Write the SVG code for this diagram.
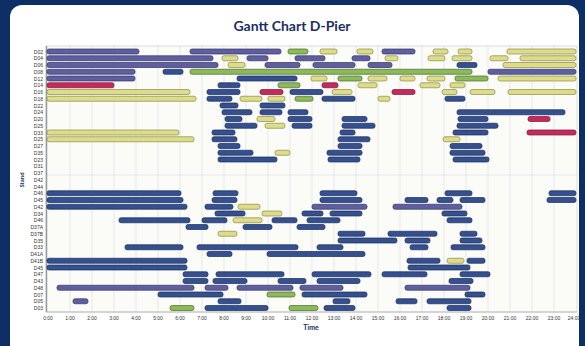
<svg xmlns="http://www.w3.org/2000/svg" width="585" height="346" viewBox="0 0 585 346">
<style>
.lbl{font-family:"Liberation Sans",Arial,sans-serif;font-size:5px;fill:#333;text-anchor:end}
.ax{font-family:"Liberation Sans",Arial,sans-serif;font-size:5px;fill:#333;text-anchor:middle}
.t{font-family:Lato,"Open Sans",sans-serif;font-weight:bold;fill:#1b2f66}
rect.p{fill:#5f5f9f;stroke:#35356a;stroke-width:0.7}
rect.b{fill:#34508f;stroke:#1c2c5c;stroke-width:0.7}
rect.y{fill:#dcdc8c;stroke:#8c8c40;stroke-width:0.7}
rect.g{fill:#8cba5a;stroke:#4c6c2c;stroke-width:0.7}
rect.r{fill:#c62a5c;stroke:#7a1838;stroke-width:0.7}
.grid line{stroke:#dcdce4;stroke-width:0.6}
</style>
<rect x="0" y="0" width="585" height="346" fill="#0e2f66"/>
<rect x="10" y="5" width="569" height="360" rx="12" fill="#ffffff"/>
<text class="t" x="292" y="31" font-size="14" text-anchor="middle">Gantt Chart D-Pier</text>
<rect x="46" y="46" width="531" height="266" fill="#fbfbf8" stroke="#c8c8c8" stroke-width="0.6"/>
<g class="grid" id="grid">
<line x1="70" y1="46" x2="70" y2="312"/><line x1="92" y1="46" x2="92" y2="312"/><line x1="114" y1="46" x2="114" y2="312"/><line x1="136" y1="46" x2="136" y2="312"/><line x1="158" y1="46" x2="158" y2="312"/><line x1="180" y1="46" x2="180" y2="312"/><line x1="202" y1="46" x2="202" y2="312"/><line x1="224" y1="46" x2="224" y2="312"/><line x1="246" y1="46" x2="246" y2="312"/><line x1="268" y1="46" x2="268" y2="312"/><line x1="290" y1="46" x2="290" y2="312"/><line x1="312" y1="46" x2="312" y2="312"/><line x1="334" y1="46" x2="334" y2="312"/><line x1="356" y1="46" x2="356" y2="312"/><line x1="378" y1="46" x2="378" y2="312"/><line x1="400" y1="46" x2="400" y2="312"/><line x1="422" y1="46" x2="422" y2="312"/><line x1="444" y1="46" x2="444" y2="312"/><line x1="466" y1="46" x2="466" y2="312"/><line x1="488" y1="46" x2="488" y2="312"/><line x1="510" y1="46" x2="510" y2="312"/><line x1="532" y1="46" x2="532" y2="312"/><line x1="554" y1="46" x2="554" y2="312"/>
<line x1="46" y1="175" x2="577" y2="175" stroke="#eee"/>
</g>
<line x1="46.5" y1="46" x2="46.5" y2="312" stroke="#9a9a9a" stroke-width="1.5"/>
<line x1="46" y1="312" x2="577" y2="312" stroke="#b0b0b0" stroke-width="0.8"/>
<g id="rows">
<g id="r0" transform="translate(0,49)"><text class="lbl" x="43" y="4.5">D02</text><rect class="p" x="47" y="0" width="92" height="5" rx="2"/><rect class="p" x="190" y="0" width="91" height="5" rx="2"/><rect class="g" x="288" y="0" width="20" height="5" rx="2"/><rect class="y" x="320" y="0" width="17" height="5" rx="2"/><rect class="y" x="357" y="0" width="16" height="5" rx="2"/><rect class="p" x="382" y="0" width="33" height="5" rx="2"/><rect class="y" x="433" y="0" width="15" height="5" rx="2"/><rect class="y" x="458" y="0" width="14" height="5" rx="2"/><rect class="y" x="507" y="0" width="69" height="5" rx="2"/></g>
<g id="r1" transform="translate(0,55.75)"><text class="lbl" x="43" y="4.5">D04</text><rect class="p" x="47" y="0" width="166" height="5" rx="2"/><rect class="y" x="222" y="0" width="16" height="5" rx="2"/><rect class="p" x="247" y="0" width="21" height="5" rx="2"/><rect class="p" x="295" y="0" width="30" height="5" rx="2"/><rect class="p" x="352" y="0" width="18" height="5" rx="2"/><rect class="y" x="385" y="0" width="13" height="5" rx="2"/><rect class="y" x="428" y="0" width="17" height="5" rx="2"/><rect class="y" x="452" y="0" width="20" height="5" rx="2"/><rect class="y" x="490" y="0" width="18" height="5" rx="2"/><rect class="y" x="520" y="0" width="56" height="5" rx="2"/></g>
<g id="r2" transform="translate(0,62.5)"><text class="lbl" x="43" y="4.5">D06</text><rect class="p" x="47" y="0" width="171" height="5" rx="2"/><rect class="y" x="228" y="0" width="17" height="5" rx="2"/><rect class="p" x="265" y="0" width="35" height="5" rx="2"/><rect class="p" x="313" y="0" width="42" height="5" rx="2"/><rect class="p" x="368" y="0" width="24" height="5" rx="2"/><rect class="b" x="457" y="0" width="20" height="5" rx="2"/><rect class="y" x="503" y="0" width="73" height="5" rx="2"/></g>
<g id="r3" transform="translate(0,69.25)"><text class="lbl" x="43" y="4.5">D08</text><rect class="p" x="47" y="0" width="88" height="5" rx="2"/><rect class="b" x="163" y="0" width="20" height="5" rx="2"/><rect class="g" x="190" y="0" width="282" height="5" rx="2"/><rect class="p" x="488" y="0" width="88" height="5" rx="2"/></g>
<g id="r4" transform="translate(0,76)"><text class="lbl" x="43" y="4.5">D12</text><rect class="p" x="47" y="0" width="88" height="5" rx="2"/><rect class="b" x="237" y="0" width="60" height="5" rx="2"/><rect class="y" x="311" y="0" width="16" height="5" rx="2"/><rect class="g" x="338" y="0" width="24" height="5" rx="2"/><rect class="y" x="368" y="0" width="19" height="5" rx="2"/><rect class="y" x="400" y="0" width="15" height="5" rx="2"/><rect class="y" x="427" y="0" width="18" height="5" rx="2"/><rect class="g" x="455" y="0" width="33" height="5" rx="2"/><rect class="y" x="498" y="0" width="78" height="5" rx="2"/></g>
<g id="r5" transform="translate(0,82.75)"><text class="lbl" x="43" y="4.5">D14</text><rect class="r" x="47" y="0" width="67" height="5" rx="2"/><rect class="b" x="218" y="0" width="22" height="5" rx="2"/><rect class="g" x="278" y="0" width="22" height="5" rx="2"/><rect class="r" x="322" y="0" width="16" height="5" rx="2"/><rect class="y" x="358" y="0" width="19" height="5" rx="2"/><rect class="y" x="420" y="0" width="20" height="5" rx="2"/><rect class="y" x="450" y="0" width="15" height="5" rx="2"/></g>
<g id="r6" transform="translate(0,89.5)"><text class="lbl" x="43" y="4.5">D16</text><rect class="y" x="47" y="0" width="143" height="5" rx="2"/><rect class="b" x="207" y="0" width="33" height="5" rx="2"/><rect class="r" x="260" y="0" width="23" height="5" rx="2"/><rect class="b" x="290" y="0" width="33" height="5" rx="2"/><rect class="y" x="332" y="0" width="20" height="5" rx="2"/><rect class="r" x="392" y="0" width="23" height="5" rx="2"/><rect class="y" x="442" y="0" width="15" height="5" rx="2"/><rect class="y" x="470" y="0" width="25" height="5" rx="2"/><rect class="y" x="508" y="0" width="68" height="5" rx="2"/></g>
<g id="r7" transform="translate(0,96.25)"><text class="lbl" x="43" y="4.5">D18</text><rect class="y" x="47" y="0" width="149" height="5" rx="2"/><rect class="b" x="207" y="0" width="25" height="5" rx="2"/><rect class="y" x="240" y="0" width="22" height="5" rx="2"/><rect class="y" x="268" y="0" width="17" height="5" rx="2"/><rect class="g" x="295" y="0" width="18" height="5" rx="2"/><rect class="b" x="322" y="0" width="33" height="5" rx="2"/><rect class="y" x="378" y="0" width="12" height="5" rx="2"/><rect class="b" x="445" y="0" width="20" height="5" rx="2"/></g>
<g id="r8" transform="translate(0,103)"><text class="lbl" x="43" y="4.5">D22</text><rect class="b" x="220" y="0" width="18" height="5" rx="2"/><rect class="b" x="260" y="0" width="25" height="5" rx="2"/></g>
<g id="r9" transform="translate(0,109.75)"><text class="lbl" x="43" y="4.5">D24</text><rect class="b" x="222" y="0" width="30" height="5" rx="2"/><rect class="b" x="260" y="0" width="22" height="5" rx="2"/><rect class="b" x="288" y="0" width="20" height="5" rx="2"/><rect class="b" x="457" y="0" width="108" height="5" rx="2"/></g>
<g id="r10" transform="translate(0,116.5)"><text class="lbl" x="43" y="4.5">D20</text><rect class="b" x="225" y="0" width="17" height="5" rx="2"/><rect class="y" x="257" y="0" width="18" height="5" rx="2"/><rect class="b" x="288" y="0" width="24" height="5" rx="2"/><rect class="b" x="342" y="0" width="25" height="5" rx="2"/><rect class="b" x="458" y="0" width="30" height="5" rx="2"/><rect class="r" x="528" y="0" width="22" height="5" rx="2"/></g>
<g id="r11" transform="translate(0,123.25)"><text class="lbl" x="43" y="4.5">D25</text><rect class="b" x="225" y="0" width="32" height="5" rx="2"/><rect class="y" x="265" y="0" width="20" height="5" rx="2"/><rect class="b" x="292" y="0" width="20" height="5" rx="2"/><rect class="b" x="342" y="0" width="33" height="5" rx="2"/><rect class="b" x="457" y="0" width="41" height="5" rx="2"/></g>
<g id="r12" transform="translate(0,130)"><text class="lbl" x="43" y="4.5">D33</text><rect class="y" x="47" y="0" width="132" height="5" rx="2"/><rect class="b" x="212" y="0" width="23" height="5" rx="2"/><rect class="b" x="340" y="0" width="15" height="5" rx="2"/><rect class="b" x="453" y="0" width="35" height="5" rx="2"/><rect class="r" x="527" y="0" width="49" height="5" rx="2"/></g>
<g id="r13" transform="translate(0,136.75)"><text class="lbl" x="43" y="4.5">D25</text><rect class="y" x="47" y="0" width="147" height="5" rx="2"/><rect class="b" x="212" y="0" width="25" height="5" rx="2"/><rect class="b" x="338" y="0" width="32" height="5" rx="2"/><rect class="y" x="443" y="0" width="17" height="5" rx="2"/></g>
<g id="r14" transform="translate(0,143.5)"><text class="lbl" x="43" y="4.5">D27</text><rect class="b" x="218" y="0" width="22" height="5" rx="2"/><rect class="b" x="338" y="0" width="24" height="5" rx="2"/><rect class="b" x="450" y="0" width="32" height="5" rx="2"/></g>
<g id="r15" transform="translate(0,150.25)"><text class="lbl" x="43" y="4.5">D35</text><rect class="b" x="218" y="0" width="35" height="5" rx="2"/><rect class="y" x="275" y="0" width="15" height="5" rx="2"/><rect class="b" x="327" y="0" width="35" height="5" rx="2"/><rect class="b" x="450" y="0" width="35" height="5" rx="2"/></g>
<g id="r16" transform="translate(0,157)"><text class="lbl" x="43" y="4.5">D23</text><rect class="b" x="218" y="0" width="59" height="5" rx="2"/><rect class="b" x="328" y="0" width="32" height="5" rx="2"/><rect class="b" x="453" y="0" width="36" height="5" rx="2"/></g>
<g id="r17" transform="translate(0,163.75)"><text class="lbl" x="43" y="4.5">D31</text></g>
<g id="r18" transform="translate(0,170.5)"><text class="lbl" x="43" y="4.5">D37</text></g>
<g id="r19" transform="translate(0,177.25)"><text class="lbl" x="43" y="4.5">D42</text></g>
<g id="r20" transform="translate(0,184)"><text class="lbl" x="43" y="4.5">D44</text></g>
<g id="r21" transform="translate(0,190.75)"><text class="lbl" x="43" y="4.5">D46</text><rect class="b" x="47" y="0" width="134" height="5" rx="2"/><rect class="b" x="213" y="0" width="25" height="5" rx="2"/><rect class="b" x="320" y="0" width="37" height="5" rx="2"/><rect class="b" x="445" y="0" width="27" height="5" rx="2"/><rect class="b" x="549" y="0" width="27" height="5" rx="2"/></g>
<g id="r22" transform="translate(0,197.5)"><text class="lbl" x="43" y="4.5">D45</text><rect class="b" x="47" y="0" width="136" height="5" rx="2"/><rect class="b" x="212" y="0" width="25" height="5" rx="2"/><rect class="b" x="320" y="0" width="42" height="5" rx="2"/><rect class="b" x="405" y="0" width="23" height="5" rx="2"/><rect class="b" x="437" y="0" width="16" height="5" rx="2"/><rect class="b" x="460" y="0" width="25" height="5" rx="2"/><rect class="b" x="547" y="0" width="29" height="5" rx="2"/></g>
<g id="r23" transform="translate(0,204.25)"><text class="lbl" x="43" y="4.5">D42</text><rect class="b" x="47" y="0" width="140" height="5" rx="2"/><rect class="b" x="205" y="0" width="28" height="5" rx="2"/><rect class="y" x="238" y="0" width="22" height="5" rx="2"/><rect class="p" x="312" y="0" width="55" height="5" rx="2"/><rect class="p" x="393" y="0" width="69" height="5" rx="2"/></g>
<g id="r24" transform="translate(0,211)"><text class="lbl" x="43" y="4.5">D34</text><rect class="b" x="215" y="0" width="30" height="5" rx="2"/><rect class="y" x="262" y="0" width="20" height="5" rx="2"/><rect class="b" x="302" y="0" width="21" height="5" rx="2"/><rect class="b" x="330" y="0" width="32" height="5" rx="2"/><rect class="b" x="442" y="0" width="25" height="5" rx="2"/></g>
<g id="r25" transform="translate(0,217.75)"><text class="lbl" x="43" y="4.5">D46</text><rect class="b" x="119" y="0" width="71" height="5" rx="2"/><rect class="b" x="202" y="0" width="25" height="5" rx="2"/><rect class="y" x="233" y="0" width="29" height="5" rx="2"/><rect class="b" x="272" y="0" width="25" height="5" rx="2"/><rect class="b" x="307" y="0" width="33" height="5" rx="2"/><rect class="b" x="447" y="0" width="25" height="5" rx="2"/></g>
<g id="r26" transform="translate(0,224.5)"><text class="lbl" x="43" y="4.5">D37A</text><rect class="b" x="186" y="0" width="22" height="5" rx="2"/><rect class="b" x="243" y="0" width="29" height="5" rx="2"/><rect class="b" x="297" y="0" width="28" height="5" rx="2"/></g>
<g id="r27" transform="translate(0,231.25)"><text class="lbl" x="43" y="4.5">D37B</text><rect class="y" x="218" y="0" width="19" height="5" rx="2"/><rect class="b" x="338" y="0" width="27" height="5" rx="2"/><rect class="b" x="388" y="0" width="49" height="5" rx="2"/><rect class="b" x="460" y="0" width="17" height="5" rx="2"/></g>
<g id="r28" transform="translate(0,238)"><text class="lbl" x="43" y="4.5">D35</text><rect class="b" x="338" y="0" width="59" height="5" rx="2"/><rect class="b" x="405" y="0" width="25" height="5" rx="2"/><rect class="b" x="460" y="0" width="22" height="5" rx="2"/></g>
<g id="r29" transform="translate(0,244.75)"><text class="lbl" x="43" y="4.5">D33</text><rect class="b" x="125" y="0" width="58" height="5" rx="2"/><rect class="b" x="197" y="0" width="101" height="5" rx="2"/><rect class="b" x="317" y="0" width="26" height="5" rx="2"/><rect class="b" x="410" y="0" width="18" height="5" rx="2"/><rect class="b" x="451" y="0" width="34" height="5" rx="2"/></g>
<g id="r30" transform="translate(0,251.5)"><text class="lbl" x="43" y="4.5">D41A</text><rect class="b" x="207" y="0" width="25" height="5" rx="2"/><rect class="b" x="267" y="0" width="98" height="5" rx="2"/></g>
<g id="r31" transform="translate(0,258.25)"><text class="lbl" x="43" y="4.5">D41B</text><rect class="b" x="47" y="0" width="140" height="5" rx="2" fill="#2a48a4"/><rect class="b" x="407" y="0" width="33" height="5" rx="2"/><rect class="y" x="447" y="0" width="17" height="5" rx="2"/><rect class="b" x="467" y="0" width="18" height="5" rx="2"/></g>
<g id="r32" transform="translate(0,265)"><text class="lbl" x="43" y="4.5">D45</text><rect class="b" x="47" y="0" width="140" height="5" rx="2"/><rect class="b" x="408" y="0" width="62" height="5" rx="2"/></g>
<g id="r33" transform="translate(0,271.75)"><text class="lbl" x="43" y="4.5">D47</text><rect class="b" x="183" y="0" width="25" height="5" rx="2"/><rect class="b" x="216" y="0" width="68" height="5" rx="2"/><rect class="b" x="312" y="0" width="59" height="5" rx="2"/><rect class="b" x="382" y="0" width="45" height="5" rx="2"/><rect class="b" x="460" y="0" width="30" height="5" rx="2"/></g>
<g id="r34" transform="translate(0,278.5)"><text class="lbl" x="43" y="4.5">D43</text><rect class="b" x="183" y="0" width="25" height="5" rx="2"/><rect class="b" x="213" y="0" width="34" height="5" rx="2"/><rect class="b" x="278" y="0" width="28" height="5" rx="2"/><rect class="b" x="317" y="0" width="43" height="5" rx="2"/><rect class="b" x="449" y="0" width="24" height="5" rx="2"/></g>
<g id="r35" transform="translate(0,285.25)"><text class="lbl" x="43" y="4.5">D48</text><rect class="p" x="57" y="0" width="137" height="5" rx="2"/><rect class="p" x="205" y="0" width="23" height="5" rx="2"/><rect class="p" x="237" y="0" width="56" height="5" rx="2"/><rect class="p" x="300" y="0" width="43" height="5" rx="2"/><rect class="p" x="405" y="0" width="65" height="5" rx="2"/></g>
<g id="r36" transform="translate(0,292)"><text class="lbl" x="43" y="4.5">D07</text><rect class="b" x="158" y="0" width="65" height="5" rx="2"/><rect class="g" x="267" y="0" width="28" height="5" rx="2"/><rect class="b" x="302" y="0" width="65" height="5" rx="2"/><rect class="b" x="465" y="0" width="20" height="5" rx="2"/></g>
<g id="r37" transform="translate(0,298.75)"><text class="lbl" x="43" y="4.5">D05</text><rect class="p" x="73" y="0" width="15" height="5" rx="2"/><rect class="b" x="218" y="0" width="23" height="5" rx="2"/><rect class="b" x="333" y="0" width="17" height="5" rx="2"/><rect class="b" x="396" y="0" width="21" height="5" rx="2"/><rect class="b" x="427" y="0" width="44" height="5" rx="2"/></g>
<g id="r38" transform="translate(0,305.5)"><text class="lbl" x="43" y="4.5">D03</text><rect class="g" x="170" y="0" width="24" height="5" rx="2"/><rect class="b" x="205" y="0" width="63" height="5" rx="2"/><rect class="g" x="289" y="0" width="29" height="5" rx="2"/><rect class="b" x="324" y="0" width="31" height="5" rx="2"/><rect class="b" x="447" y="0" width="24" height="5" rx="2"/></g>
</g>
<g id="xaxis">
<text class="ax" x="48" y="320">0:00</text><text class="ax" x="70" y="320">1:00</text><text class="ax" x="92" y="320">2:00</text><text class="ax" x="114" y="320">3:00</text><text class="ax" x="136" y="320">4:00</text><text class="ax" x="158" y="320">5:00</text><text class="ax" x="180" y="320">6:00</text><text class="ax" x="202" y="320">7:00</text><text class="ax" x="224" y="320">8:00</text><text class="ax" x="246" y="320">9:00</text><text class="ax" x="268" y="320">10:00</text><text class="ax" x="290" y="320">11:00</text><text class="ax" x="312" y="320">12:00</text><text class="ax" x="334" y="320">13:00</text><text class="ax" x="356" y="320">14:00</text><text class="ax" x="378" y="320">15:00</text><text class="ax" x="400" y="320">16:00</text><text class="ax" x="422" y="320">17:00</text><text class="ax" x="444" y="320">18:00</text><text class="ax" x="466" y="320">19:00</text><text class="ax" x="488" y="320">20:00</text><text class="ax" x="510" y="320">21:00</text><text class="ax" x="532" y="320">22:00</text><text class="ax" x="554" y="320">23:00</text><text class="ax" x="574" y="320">24:00</text>
<text class="t" x="311" y="330" font-size="7" text-anchor="middle">Time</text>
<text class="t" x="0" y="0" font-size="6" text-anchor="middle" transform="translate(24,180) rotate(-90)">Stand</text>
</g>
</svg>
